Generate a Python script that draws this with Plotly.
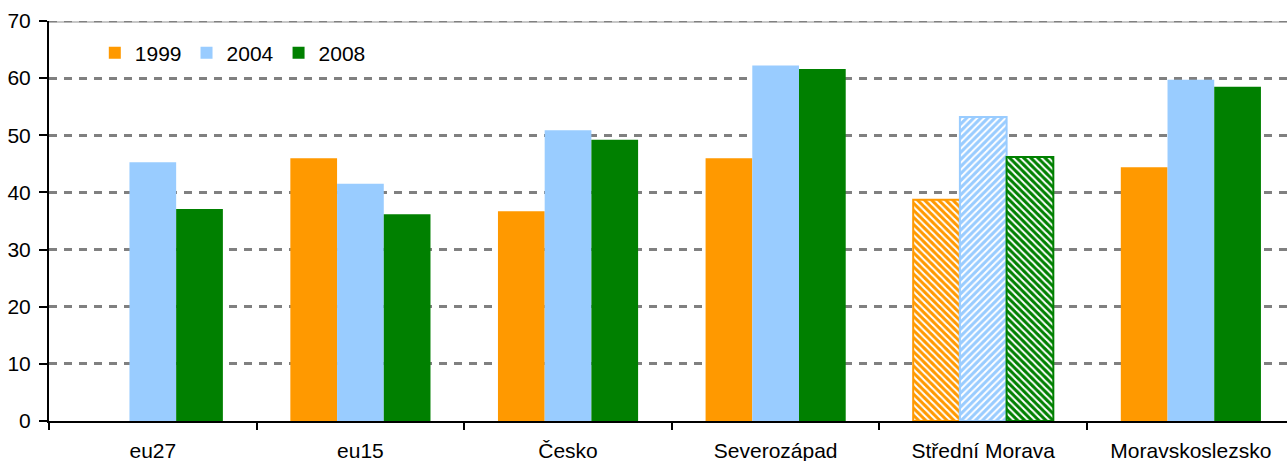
import plotly.graph_objects as go

# Regions and values per survey year
categories = ["eu27", "eu15", "Česko", "Severozápad", "Střední Morava", "Moravskoslezsko"]
years = ["1999", "2004", "2008"]
values_1999 = [None, 46.0, 36.7, 46.0, 38.7, 44.4]
values_2004 = [45.3, 41.5, 50.9, 62.2, 53.2, 59.7]
values_2008 = [37.1, 36.2, 49.2, 61.6, 46.2, 58.5]
y_ticks = [0, 10, 20, 30, 40, 50, 60, 70]

colors = ["#FF9900", "#99CCFF", "#008000"]
hatch_dirs = ["\\", "/", "\\"]
highlight = "Střední Morava"

FONT = "Liberation Sans, Arial, sans-serif"
FS = 21

fig = go.Figure()
for year, vals, col, hd in zip(years, [values_1999, values_2004, values_2008], colors, hatch_dirs):
    shapes = [hd if c == highlight else "" for c in categories]
    lw = [2 if c == highlight else 0 for c in categories]
    fig.add_trace(go.Bar(
        x=categories, y=vals, name=year,
        marker=dict(
            color=col,
            line=dict(color=col, width=lw),
            pattern=dict(shape=shapes, bgcolor=col, fgcolor="white",
                         size=5, solidity=0.4, fillmode="replace"),
        ),
    ))

# light frame line along the top of the plot area
fig.add_shape(type="line", xref="paper", yref="y", x0=0, x1=1, y0=70, y1=70,
              line=dict(color="#c8c8c8", width=4), layer="above")
fig.add_shape(type="line", xref="paper", yref="y", x0=0, x1=1, y0=70, y1=70,
              line=dict(color="#808080", width=2.5, dash="8px,7px"), layer="above")

n = len(categories)
fig.update_layout(
    width=1287, height=461,
    margin=dict(l=49, r=0, t=21, b=40),
    paper_bgcolor="white", plot_bgcolor="white",
    barmode="group", bargap=0.325, bargroupgap=0,
    font=dict(family=FONT, size=FS, color="black"),
    showlegend=True,
    legend=dict(orientation="h", x=0.037, y=0.92, xanchor="left", yanchor="middle",
                bgcolor="rgba(0,0,0,0)", font=dict(size=FS, family=FONT),
                traceorder="normal", itemwidth=30),
    xaxis=dict(
        type="category", range=[-0.5, n - 0.537], automargin=False,
        showline=True, linecolor="black", linewidth=2,
        ticks="outside", tickson="boundaries", ticklen=7, tickwidth=2, tickcolor="black",
        showgrid=False, tickfont=dict(size=FS, family=FONT),
        ticklabelstandoff=10,
    ),
    yaxis=dict(
        range=[0, 70], tickvals=y_ticks, automargin=False,
        showline=True, linecolor="black", linewidth=2,
        ticks="outside", ticklen=8, tickwidth=2, tickcolor="black",
        showgrid=True, gridcolor="#808080", gridwidth=2.5, griddash="8px,7px",
        zeroline=False, tickfont=dict(size=FS, family=FONT),
        ticklabelstandoff=4,
    ),
)

fig.write_html("out.html")
